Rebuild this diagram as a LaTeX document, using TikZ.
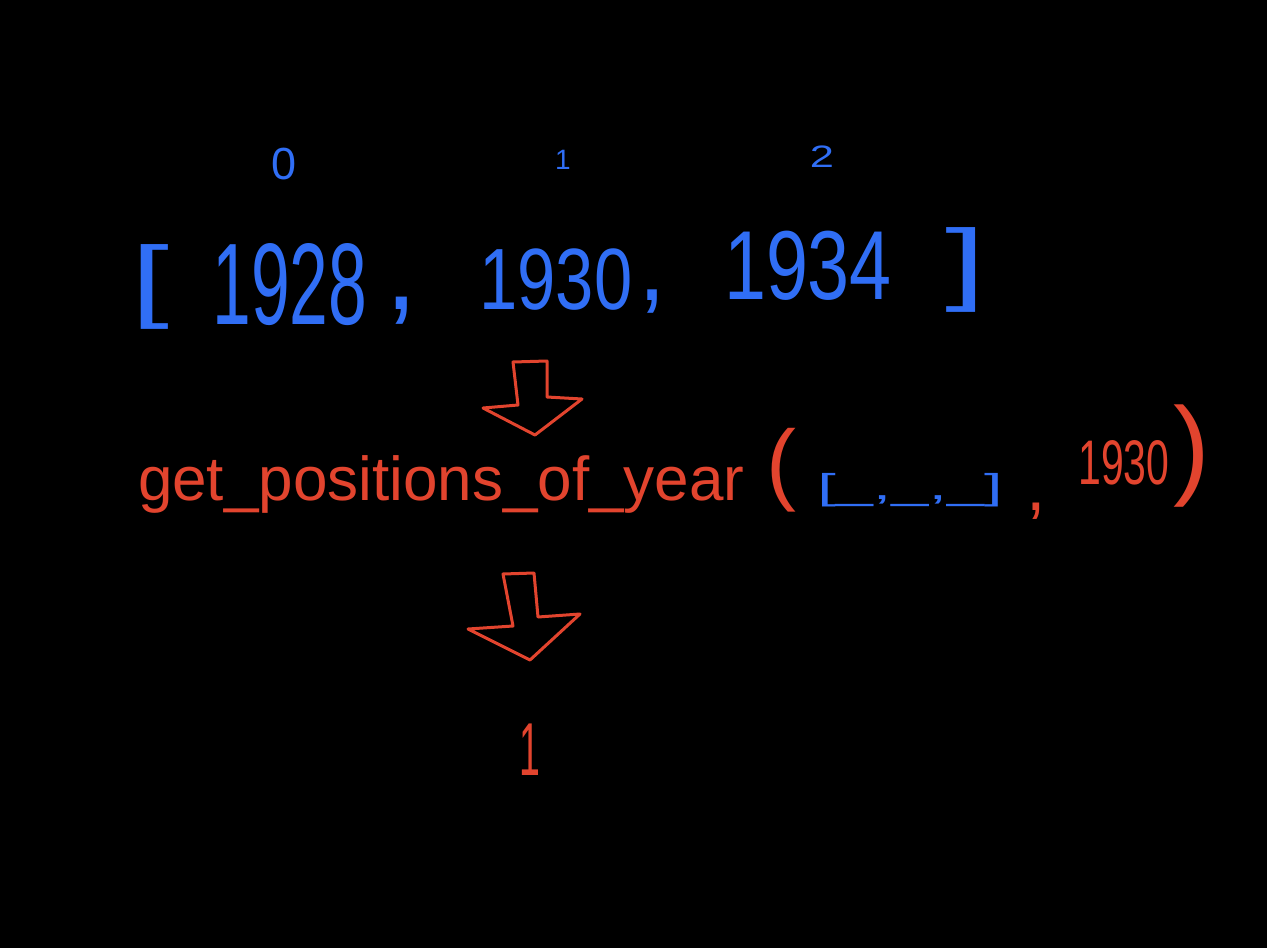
\documentclass[tikz,border=0pt]{standalone}
\usepackage{fontspec}
\setmainfont{Liberation Sans}
\definecolor{hblue}{RGB}{48,110,245}
\definecolor{hred}{RGB}{226,68,46}
\tikzset{
  htext/.style={inner sep=0pt, outer sep=0pt, transform shape},
  bluet/.style={htext, text=hblue},
  redt/.style={htext, text=hred},
  blockarrow/.style={draw=hred, line width=3pt, line join=round, line cap=round},
}
\newcommand{\fs}[1]{\fontsize{#1}{#1}\selectfont}
\begin{document}
\begin{tikzpicture}[x=1pt,y=-1pt]
\fill[black] (0,0) rectangle (1267,948);
\useasboundingbox (0,0) rectangle (1267,948);
% indices
\node[bluet, font=\fs{45}] (i0) at (284,164) {0};
\node[bluet, font=\fs{28}] (i1) at (563,160) {1};
\node[bluet, font=\fs{31}, xscale=1.4] (i2) at (822,157) {2};
% list
\node[bluet, font=\fs{91}, xscale=1.5] (lb) at (150,287) {[};
\node[bluet, font=\fs{116}, xscale=0.6] (y1) at (290,285) {1928};
\node[bluet, font=\fs{116}] (c1) at (402,311) {,};
\node[bluet, font=\fs{87}, xscale=0.79] (y2) at (556,280) {1930};
\node[bluet, font=\fs{100}] (c2) at (652,302) {,};
\node[bluet, font=\fs{98}, xscale=0.77] (y3) at (808,266) {1934};
\node[bluet, font=\fs{91}, xscale=1.6] (rb) at (966,270) {]};
% arrow 1
\draw[blockarrow] (513,362) -- (547,361) -- (547,397) -- (582,399) -- (535,435) -- (483,408) -- (518,405) -- cycle;
% call
\node[redt, font=\fs{62}, anchor=base west] (fn) at (138,500) {get\_positions\_of\_year};
\node[redt, font=\fs{90}] (lp) at (781,470) {(};
\node[bluet, font=\fs{36}, xscale=1.85] (ph) at (910,490) {[\_,\_,\_]};
\node[redt, font=\fs{70}] (c3) at (1036,511) {,};
\node[redt, font=\fs{63}, xscale=0.65] (yr) at (1124,463) {1930};
\node[redt, font=\fs{110}] (rp) at (1192,456) {)};
% arrow 2
\draw[blockarrow] (503,574) -- (534,573) -- (538,617) -- (580,614) -- (530,660) -- (468,629) -- (513,626) -- cycle;
% result
\node[redt, font=\fs{75}, xscale=0.5] (res) at (530,750) {1};
\end{tikzpicture}
\end{document}
